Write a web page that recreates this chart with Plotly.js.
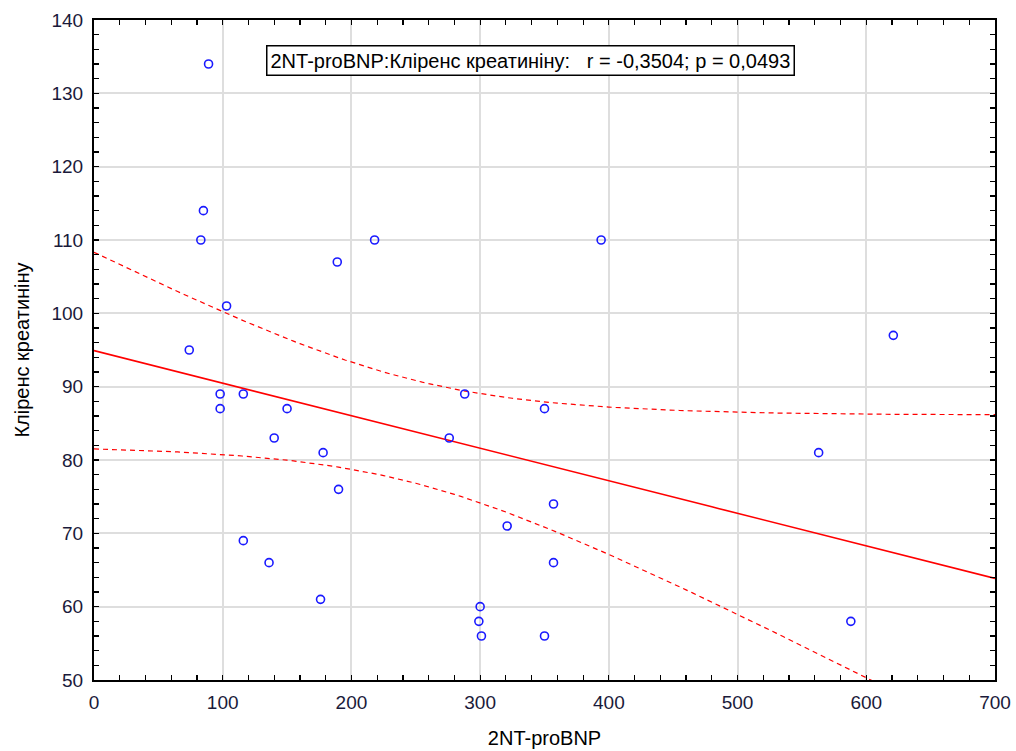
<!DOCTYPE html>
<html><head><meta charset="utf-8">
<script src="https://cdn.plot.ly/plotly-3.0.1.min.js"></script>
<style>html,body{margin:0;padding:0;background:#fff;}#chart{width:1016px;height:751px;}</style>
</head><body><div id="chart"></div>
<script>
// 2NT-proBNP values (x) and creatinine clearance (y)
const ntProBNP = [89, 85, 83, 103, 74, 98, 98, 116, 150, 140, 178, 190, 189, 218, 116, 136, 176,
                  288, 276, 350, 357, 321, 357, 300, 299, 301, 350, 394, 621, 563, 588];
const clearance = [134, 114, 110, 101, 95, 89, 87, 89, 87, 83, 81, 76, 107, 110, 69, 66, 61,
                   89, 83, 87, 74, 71, 66, 60, 58, 56, 56, 110, 97, 81, 58];
const xTicks = [0, 100, 200, 300, 400, 500, 600, 700];
const yTicks = [50, 60, 70, 80, 90, 100, 110, 120, 130, 140];
const annotationText = "2NT-proBNP:Кліренс креатиніну:   r = -0,3504; p = 0,0493";

// linear regression fit with 95% confidence band
const n = ntProBNP.length;
const mx = ntProBNP.reduce((a, b) => a + b, 0) / n;
const my = clearance.reduce((a, b) => a + b, 0) / n;
let sxx = 0, sxy = 0;
for (let i = 0; i < n; i++) { sxx += (ntProBNP[i] - mx) ** 2; sxy += (ntProBNP[i] - mx) * (clearance[i] - my); }
const slope = sxy / sxx, icpt = my - slope * mx;
let sse = 0;
for (let i = 0; i < n; i++) { sse += (clearance[i] - (icpt + slope * ntProBNP[i])) ** 2; }
const s = Math.sqrt(sse / (n - 2));
const tCrit = 2.045;
const fx = [], fy = [], up = [], lo = [];
for (let x = 0; x <= 700; x += 5) {
  const yh = icpt + slope * x;
  const se = s * Math.sqrt(1 / n + (x - mx) ** 2 / sxx);
  fx.push(x); fy.push(yh); up.push(yh + tCrit * se); lo.push(yh - tCrit * se);
}

const fontFam = 'Liberation Sans, Arial, sans-serif';
const traces = [
  { x: fx, y: up, mode: 'lines', line: { color: '#ff0000', width: 1.2, dash: '5px,4px' }, hoverinfo: 'skip' },
  { x: fx, y: lo, mode: 'lines', line: { color: '#ff0000', width: 1.2, dash: '5px,4px' }, hoverinfo: 'skip' },
  { x: fx, y: fy, mode: 'lines', line: { color: '#ff0000', width: 1.6 }, hoverinfo: 'skip' },
  { x: ntProBNP, y: clearance, mode: 'markers',
    marker: { symbol: 'circle-open', size: 8, color: '#1a1aff', line: { width: 1.6, color: '#1a1aff' } } }
];
const axisCommon = {
  showline: true, linecolor: '#000', linewidth: 2, mirror: 'ticks',
  ticks: 'inside', ticklen: 5, tickwidth: 1.2, tickcolor: '#000',
  showgrid: true, gridcolor: '#dedede', gridwidth: 2, zeroline: false,
  tickfont: { family: fontFam, size: 19, color: '#1a1a3a' }
};
const layout = {
  width: 1016, height: 751,
  margin: { l: 94, r: 21, t: 20, b: 71 },
  paper_bgcolor: '#fff', plot_bgcolor: '#fff', showlegend: false,
  xaxis: Object.assign({}, axisCommon, {
    range: [0, 700], tickvals: xTicks, ticktext: xTicks.map(String), ticklabelstandoff: 4,
    minor: { dtick: 20, ticks: 'inside', ticklen: 5, tickcolor: '#000', tickwidth: 1.2, showgrid: false },
    title: { text: '2NT-proBNP', font: { family: fontFam, size: 20, color: '#000' }, standoff: 19 }
  }),
  yaxis: Object.assign({}, axisCommon, {
    range: [50, 140], tickvals: yTicks, ticktext: yTicks.map(String), ticklabelstandoff: 5,
    minor: { dtick: 2, ticks: 'inside', ticklen: 5, tickcolor: '#000', tickwidth: 1.2, showgrid: false },
    title: { text: 'Кліренс креатиніну', font: { family: fontFam, size: 20, color: '#000' }, standoff: 16 }
  }),
  annotations: [{
    text: annotationText, xref: 'paper', yref: 'paper', x: 0.485, y: 0.9386,
    xanchor: 'center', yanchor: 'middle', showarrow: false,
    font: { family: fontFam, size: 20, color: '#000' },
    bordercolor: '#000', borderwidth: 1.5, borderpad: 3, bgcolor: '#fff'
  }]
};
Plotly.newPlot('chart', traces, layout, { displayModeBar: false, staticPlot: true });
</script></body></html>
